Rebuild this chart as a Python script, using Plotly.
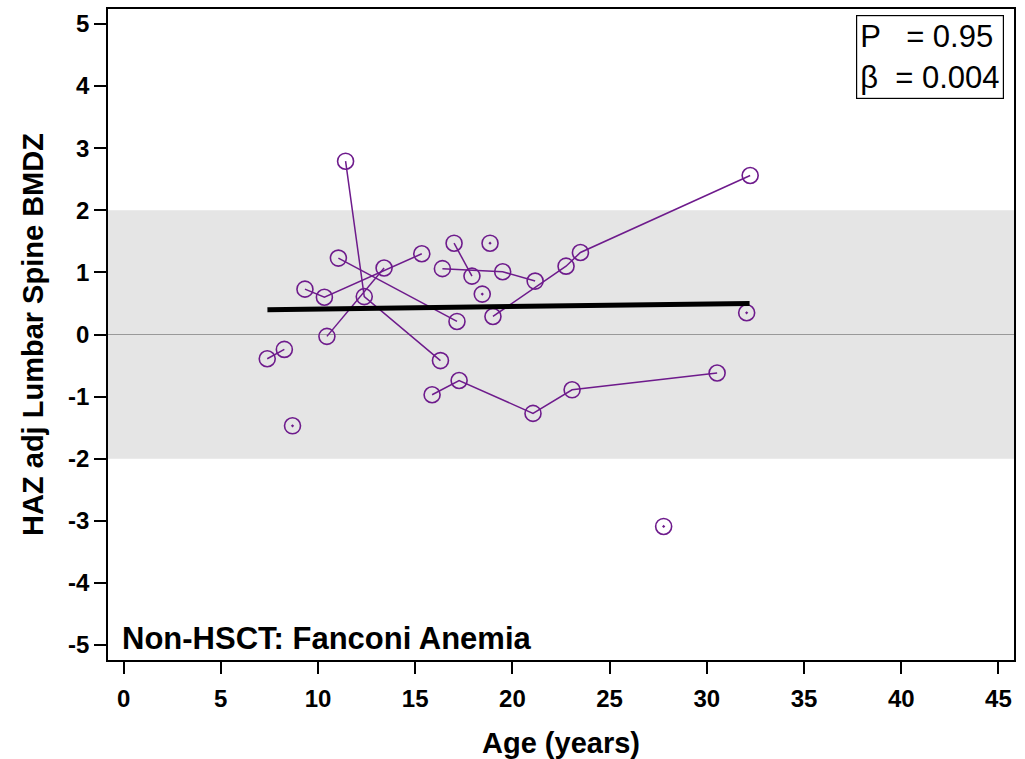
import plotly.graph_objects as go

# Per-subject longitudinal data (age in years, HAZ adj lumbar spine BMDZ)
subj_a_age = [9.33, 10.33, 15.34]
subj_a_z = [0.73, 0.60, 1.30]
subj_b_age = [10.46, 13.40]
subj_b_z = [-0.03, 1.07]
subj_c_age = [11.42, 12.38, 16.30]
subj_c_z = [2.79, 0.61, -0.42]
subj_d_age = [11.05, 17.15]
subj_d_z = [1.23, 0.21]
subj_e_age = [17.00, 17.92]
subj_e_z = [1.47, 0.94]
subj_f_age = [16.40, 19.50, 21.17]
subj_f_z = [1.06, 1.01, 0.86]
subj_g_age = [19.00, 22.76, 23.50, 32.23]
subj_g_z = [0.29, 1.10, 1.32, 2.56]
subj_h_age = [15.87, 17.26, 21.06, 23.07, 30.53]
subj_h_z = [-0.97, -0.74, -1.27, -0.89, -0.62]
subj_i_age = [7.39, 8.27]
subj_i_z = [-0.39, -0.24]

single_age = [8.69, 18.85, 18.45, 32.05, 27.78]
single_z = [-1.47, 1.47, 0.65, 0.35, -3.09]

fit_age = [7.4, 32.2]
fit_z = [0.40, 0.50]

x_ticks = [0, 5, 10, 15, 20, 25, 30, 35, 40, 45]
x_labels = ["0", "5", "10", "15", "20", "25", "30", "35", "40", "45"]
y_ticks = [-5, -4, -3, -2, -1, 0, 1, 2, 3, 4, 5]
y_labels = ["-5", "-4", "-3", "-2", "-1", "0", "1", "2", "3", "4", "5"]

PURPLE = "#6e1b8c"
FONT = "Liberation Sans, Arial"

fig = go.Figure()

subjects = [
    (subj_a_age, subj_a_z), (subj_b_age, subj_b_z), (subj_c_age, subj_c_z),
    (subj_d_age, subj_d_z), (subj_e_age, subj_e_z), (subj_f_age, subj_f_z),
    (subj_g_age, subj_g_z), (subj_h_age, subj_h_z), (subj_i_age, subj_i_z),
]
for ages, zs in subjects:
    fig.add_trace(go.Scatter(
        x=ages, y=zs, mode="lines+markers",
        line=dict(color=PURPLE, width=1.5),
        marker=dict(symbol="circle-open", size=16, color=PURPLE, line=dict(width=1.6)),
        showlegend=False, hoverinfo="x+y"))

fig.add_trace(go.Scatter(
    x=single_age, y=single_z, mode="markers",
    marker=dict(symbol="circle-open-dot", size=16, color=PURPLE, line=dict(width=1.6)),
    showlegend=False))

fig.add_trace(go.Scatter(
    x=fit_age, y=fit_z, mode="lines",
    line=dict(color="black", width=5), showlegend=False))

# Normal-range band and zero line
fig.add_shape(type="rect", xref="paper", yref="y", x0=0, x1=1, y0=-2, y1=2,
              fillcolor="#e5e5e5", line=dict(width=0), layer="below")
fig.add_shape(type="line", xref="paper", yref="y", x0=0, x1=1, y0=0, y1=0,
              line=dict(color="#999999", width=1.2), layer="below")

fig.add_annotation(xref="paper", yref="paper", x=0.013, y=0.003,
                   xanchor="left", yanchor="bottom", showarrow=False,
                   text="<b>Non-HSCT: Fanconi Anemia</b>",
                   font=dict(family=FONT, size=31, color="black"))

fig.add_annotation(xref="paper", yref="paper", x=0.9895, y=0.991,
                   xanchor="right", yanchor="top", showarrow=False, align="left",
                   text="P   = 0.95<br>β  = 0.004",
                   font=dict(family=FONT, size=31, color="black"),
                   bordercolor="black", borderwidth=1.2, borderpad=3, bgcolor="white")

axis_common = dict(
    showgrid=False, zeroline=False, showline=True, linecolor="black", linewidth=1.5,
    mirror=True, ticks="outside", ticklen=12, tickwidth=1.5, tickcolor="black",
    automargin=False,
    tickfont=dict(family=FONT, size=24, color="black", weight="bold"),
)

fig.update_xaxes(range=[-0.8, 45.8], tickvals=x_ticks, ticktext=x_labels,
                 ticklabelstandoff=4,
                 title=dict(text="<b>Age (years)</b>", standoff=24,
                            font=dict(family=FONT, size=29, color="black")),
                 **axis_common)
fig.update_yaxes(range=[-5.24, 5.24], tickvals=y_ticks, ticktext=y_labels,
                 ticklabelstandoff=0,
                 title=dict(text="<b>HAZ adj Lumbar Spine BMDZ</b>", standoff=16,
                            font=dict(family=FONT, size=29, color="black")),
                 **axis_common)

fig.update_layout(
    width=1025, height=759,
    margin=dict(l=108, r=11, t=9, b=99),
    plot_bgcolor="white", paper_bgcolor="white",
)

fig.write_html("out.html")
